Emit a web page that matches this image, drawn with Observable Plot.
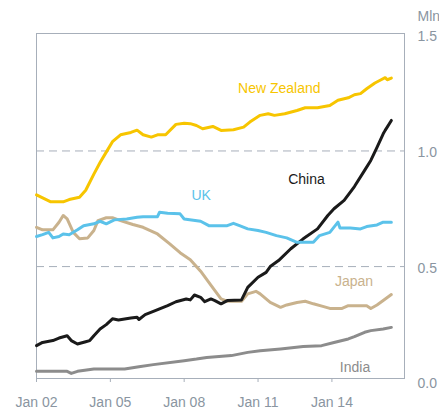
<!DOCTYPE html>
<html>
<head>
<meta charset="utf-8">
<script src="https://cdn.jsdelivr.net/npm/d3@7"></script>
<script src="https://cdn.jsdelivr.net/npm/@observablehq/plot@0.6"></script>
<style>
  body { margin: 0; background: #fff; }
</style>
</head>
<body>
<div id="chart"></div>
<script>
// ---- Data (millions) ----
const nzDates = ["2002-01","2002-08","2003-02","2003-05","2003-10","2004-01","2004-05","2004-08","2004-11","2005-02","2005-06","2005-11","2006-02","2006-05","2006-09","2006-12","2007-04","2007-09","2008-01","2008-04","2008-07","2008-10","2009-03","2009-07","2010-01","2010-06","2010-09","2011-02","2011-06","2011-09","2012-02","2012-08","2012-12","2013-06","2013-12","2014-04","2014-09","2014-12","2015-03","2015-06","2015-10","2016-01","2016-03","2016-04","2016-06"];
const nzValues = [0.81,0.78,0.78,0.79,0.80,0.83,0.90,0.95,0.995,1.04,1.07,1.08,1.09,1.07,1.06,1.07,1.07,1.115,1.12,1.118,1.11,1.096,1.106,1.089,1.092,1.103,1.125,1.154,1.161,1.154,1.161,1.175,1.187,1.187,1.197,1.219,1.23,1.243,1.248,1.269,1.294,1.308,1.317,1.308,1.315];

const ukDates = ["2002-01","2002-04","2002-07","2002-09","2002-12","2003-02","2003-05","2003-09","2003-12","2004-05","2004-08","2004-11","2005-03","2005-09","2006-02","2006-05","2006-12","2007-01","2007-05","2007-11","2008-01","2008-09","2009-01","2009-10","2010-01","2010-04","2010-08","2011-01","2011-05","2011-10","2012-03","2012-08","2013-04","2013-07","2013-12","2014-04","2014-05","2014-10","2015-03","2015-06","2015-11","2016-02","2016-06"];
const ukValues = [0.63,0.638,0.648,0.624,0.63,0.641,0.638,0.659,0.677,0.685,0.696,0.685,0.702,0.706,0.713,0.716,0.716,0.735,0.731,0.728,0.706,0.696,0.677,0.677,0.687,0.677,0.663,0.656,0.648,0.634,0.624,0.605,0.605,0.634,0.648,0.692,0.667,0.667,0.663,0.673,0.68,0.692,0.692];

const chinaDates = ["2002-01","2002-04","2002-09","2002-12","2003-04","2003-06","2003-09","2004-01","2004-03","2004-05","2004-08","2004-11","2005-02","2005-05","2005-11","2006-02","2006-03","2006-06","2006-10","2007-01","2007-05","2007-09","2008-02","2008-04","2008-06","2008-09","2008-11","2009-02","2009-04","2009-07","2009-10","2010-05","2010-08","2011-01","2011-05","2011-07","2011-11","2012-05","2012-11","2013-06","2013-11","2014-02","2014-07","2014-12","2015-05","2015-08","2015-11","2016-02","2016-03","2016-06"];
const chinaValues = [0.158,0.172,0.18,0.191,0.201,0.18,0.165,0.175,0.18,0.201,0.23,0.249,0.274,0.269,0.278,0.281,0.271,0.292,0.306,0.317,0.331,0.348,0.36,0.356,0.377,0.367,0.348,0.36,0.353,0.339,0.353,0.356,0.41,0.454,0.475,0.5,0.526,0.577,0.62,0.663,0.721,0.75,0.786,0.846,0.916,0.959,1.016,1.074,1.089,1.132];

const japanDates = ["2002-01","2002-04","2002-09","2002-12","2003-02","2003-04","2003-07","2003-10","2004-02","2004-05","2004-07","2004-11","2005-02","2005-06","2005-12","2006-05","2006-12","2007-06","2007-11","2008-04","2008-09","2009-01","2009-04","2009-07","2009-10","2010-05","2010-08","2010-12","2011-02","2011-07","2011-12","2012-03","2012-08","2012-12","2013-04","2013-09","2013-12","2014-06","2014-09","2015-06","2015-08","2015-11","2016-02","2016-06"];
const japanValues = [0.67,0.659,0.659,0.692,0.721,0.706,0.648,0.62,0.624,0.656,0.699,0.711,0.711,0.699,0.682,0.67,0.641,0.598,0.56,0.53,0.48,0.432,0.396,0.36,0.35,0.35,0.382,0.393,0.382,0.345,0.324,0.334,0.345,0.35,0.339,0.327,0.319,0.319,0.331,0.331,0.319,0.334,0.353,0.379];

const indiaDates = ["2002-01","2003-04","2003-06","2003-09","2004-05","2005-08","2006-03","2006-10","2008-01","2008-07","2008-12","2009-12","2010-08","2011-02","2011-12","2012-11","2013-08","2014-02","2014-09","2014-12","2015-05","2015-08","2016-02","2016-06"];
const indiaValues = [0.047,0.047,0.038,0.047,0.057,0.057,0.067,0.076,0.093,0.1,0.107,0.115,0.129,0.136,0.144,0.154,0.158,0.172,0.187,0.197,0.216,0.223,0.23,0.237];

const seriesNames = ["India", "Japan", "China", "UK", "New Zealand"];
const seriesColors = ["#8c8c8c", "#c9b28d", "#1a1a1a", "#5bc2ea", "#f7c500"];

// label anchor points (date, value)
const labelNames = ["New Zealand", "UK", "China", "Japan", "India"];
const labelDates = ["2011-11-13", "2008-09-10", "2012-12-19", "2014-11-25", "2014-12-10"];
const labelValues = [1.272, 0.807, 0.876, 0.437, 0.062];

const xTickYears = [2002, 2005, 2008, 2011, 2014];
const yTicks = [0, 0.5, 1.0, 1.5];
const gridValues = [0.5, 1.0];
const unitLabel = "Mln";

// ---- Build tables ----
const parseM = d3.utcParse("%Y-%m");
const parseD = d3.utcParse("%Y-%m-%d");
function series(name, dates, values) {
  return dates.map((d, i) => ({name, date: parseM(d), value: values[i]}));
}
const data = [
  ...series("India", indiaDates, indiaValues),
  ...series("Japan", japanDates, japanValues),
  ...series("China", chinaDates, chinaValues),
  ...series("UK", ukDates, ukValues),
  ...series("New Zealand", nzDates, nzValues)
];
const labels = labelNames.map((n, i) => ({name: n, date: parseD(labelDates[i]), value: labelValues[i]}));
const xTicks = xTickYears.map(y => new Date(Date.UTC(y, 0, 1)));

const frameColor = "#a7afba";
const tickText = "#8a95a1";

const chart = Plot.plot({
  width: 439,
  height: 410,
  marginLeft: 36,
  marginRight: 35,
  marginTop: 33,
  marginBottom: 32,
  style: {fontFamily: "'Liberation Sans', Arial, Helvetica, sans-serif", fontSize: "14px", background: "#fff", overflow: "visible"},
  x: {type: "utc", domain: [new Date(Date.UTC(2002, 0, 1)), new Date(Date.UTC(2016, 11, 13))]},
  y: {domain: [0.016, 1.508]},
  color: {domain: seriesNames, range: seriesColors},
  marks: [
    Plot.ruleY(gridValues, {stroke: frameColor, strokeDasharray: "8,5", strokeWidth: 1}),
    Plot.frame({stroke: frameColor, strokeWidth: 1}),
    Plot.axisX({ticks: xTicks, tickFormat: d3.utcFormat("Jan %y"), tickSize: 4, tickPadding: 15,
      stroke: frameColor, fill: tickText, fontSize: 14, label: null}),
    Plot.axisY({anchor: "right", ticks: yTicks, tickFormat: d3.format(".1f"), tickSize: 0, tickPadding: 13,
      fill: tickText, fontSize: 14, dy: 1.5, label: null}),
    Plot.line(data, {x: "date", y: "value", z: "name", stroke: "name", strokeWidth: 3,
      strokeLinejoin: "round", strokeLinecap: "round"}),
    Plot.text(labels, {x: "date", y: "value", text: "name", fill: "name", fontSize: 14, textAnchor: "middle"}),
    Plot.text([unitLabel], {frameAnchor: "top-right", text: d => d, dx: 13, dy: -16.5, textAnchor: "start",
      lineAnchor: "middle", fill: tickText, fontSize: 14})
  ]
});
document.getElementById("chart").appendChild(chart);
</script>
</body>
</html>
